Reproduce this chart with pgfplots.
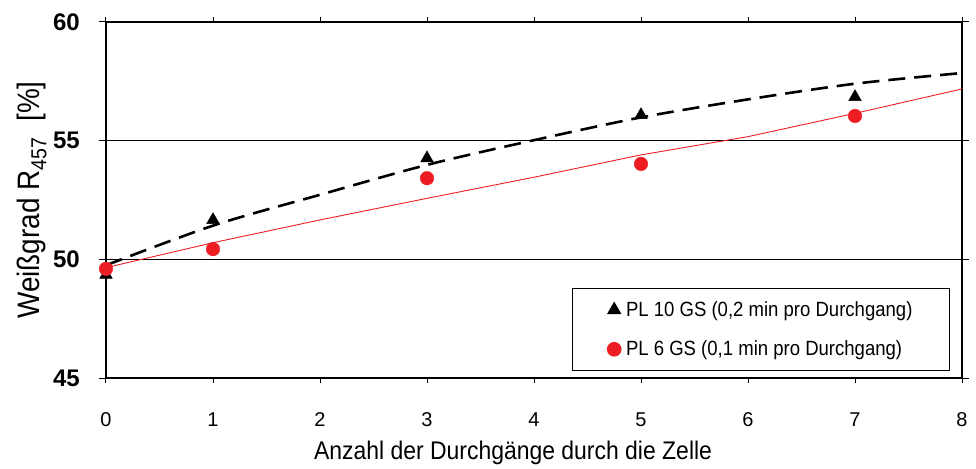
\documentclass[border=0pt]{standalone}
\usepackage{pgfplots}
\pgfplotsset{compat=1.18}
\usepackage{fontspec}
\setmainfont{Liberation Sans}
\newfontfamily\narrowfont{Liberation Sans}[FakeStretch=0.9]
\definecolor{myred}{RGB}{236,30,36}
\pgfplotsset{onlymarklegend/.style={legend image code/.code={\draw[##1] plot coordinates {(0pt,0pt)};}}}
\begin{document}
\begin{tikzpicture}
\path[use as bounding box] (-106pt,-90pt) rectangle (870pt,378pt);
\begin{axis}[
  at={(0pt,0pt)}, anchor=south west,
  scale only axis, width=856pt, height=356pt,
  xmin=0, xmax=8, ymin=45, ymax=60,
  xtick={0,1,2,3,4,5,6,7,8},
  ytick={45,50,55,60},
  ymajorgrids,
  grid style={black, line width=0.8pt},
  axis line style={black, line width=1.1pt},
  tick align=outside,
  major tick length=7pt,
  xtick style={black, line width=1pt, /pgfplots/major tick length=5pt},
  ytick style={black, line width=1pt},
  /pgf/number format/assume math mode=true,
  xticklabel style={font=\fontsize{20}{20}\selectfont, inner sep=0pt, anchor=base, yshift=-41pt},
  yticklabel style={font=\bfseries\fontsize{24}{24}\selectfont, inner sep=0pt, anchor=east, xshift=-19pt},
  xlabel={Anzahl der Durchgänge durch die Zelle},
  ylabel={Weißgrad R\textsubscript{457}\ \ [\%]},
  xlabel style={font=\narrowfont\fontsize{25.5}{25.5}\selectfont, at={(axis description cs:0.4755,-0.2303)}, anchor=base},
  ylabel style={font=\narrowfont\fontsize{31}{31}\selectfont, at={(axis description cs:-0.0771,0.5)}, anchor=base},
  legend style={at={(axis description cs:1,0)}, anchor=south east, xshift=-12pt, yshift=7pt,
    draw=black, line width=1pt, inner xsep=35pt, inner ysep=11pt, row sep=19pt, column sep=3pt,
    font=\narrowfont\fontsize{20.6}{20.6}\selectfont, cells={anchor=west}},
  legend cell align=left,
]
\addplot[black, line width=2.6pt, dash pattern=on 17pt off 9pt, smooth, forget plot] coordinates {
 (0,49.75) (1,51.42) (2,52.72) (3,53.98) (4,55.02) (5,55.98) (6,56.74) (7,57.40) (8,57.85)};
\addplot[myred, line width=0.9pt, forget plot] coordinates {
 (0,49.65) (1,50.70) (2,51.66) (3,52.57) (4,53.46) (5,54.40) (6,55.17) (7,56.15) (8,57.18)};
\addplot[only marks, mark=triangle*, mark size=7.3pt, black, mark options={fill=black}, onlymarklegend] coordinates {
 (0,49.35) (1,51.66) (3,54.26) (5,56.08) (7,56.84)};
\addlegendentry{PL 10 GS (0,2 min pro Durchgang)}
\addplot[only marks, mark=*, mark size=6.8pt, myred, mark options={fill=myred, draw=myred}, onlymarklegend] coordinates {
 (0,49.60) (1,50.43) (3,53.42) (5,54.02) (7,56.04)};
\addlegendentry{PL 6 GS (0,1 min pro Durchgang)}
\end{axis}
\end{tikzpicture}
\end{document}
